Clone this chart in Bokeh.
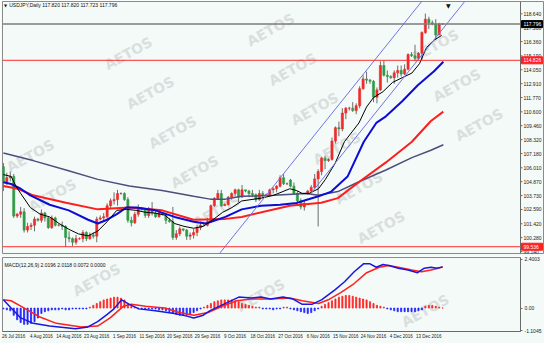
from bokeh.plotting import figure
from bokeh.models import ColumnDataSource, Range1d, FixedTicker, Span, Label
from bokeh.layouts import column
from bokeh.embed import file_html
from bokeh.resources import INLINE
from bokeh.core.properties import value

# ---------------- data ----------------
date_ticks = [0, 8, 16, 24, 32, 40, 48, 56, 64, 72, 80, 88, 96, 104, 112, 120]
date_labels = ["26 Jul 2016", "4 Aug 2016", "14 Aug 2016", "23 Aug 2016", "1 Sep 2016",
               "11 Sep 2016", "20 Sep 2016", "29 Sep 2016", "9 Oct 2016", "18 Oct 2016",
               "27 Oct 2016", "6 Nov 2016", "15 Nov 2016", "24 Nov 2016", "4 Dec 2016",
               "13 Dec 2016"]

price_ticks = [118.640, 117.500, 116.360, 115.190, 114.050, 112.910, 111.770, 110.600,
               109.460, 108.320, 107.180, 106.010, 104.870, 103.730, 102.590, 101.420,
               100.280, 99.140]

open_ = [106.10, 104.80, 105.20, 105.30, 102.05, 102.20, 102.40, 100.90, 101.20, 101.30,
         101.80, 101.70, 102.30, 101.90, 101.10, 101.90, 101.30, 101.30, 101.20, 100.30,
         100.20, 99.90, 100.20, 100.20, 100.70, 100.20, 100.50, 100.40, 101.80, 101.90,
         102.00, 102.90, 103.30, 103.40, 103.90, 103.90, 103.40, 101.70, 101.50, 102.20,
         102.70, 102.60, 102.10, 102.60, 102.30, 102.00, 102.30, 102.20, 101.70, 101.60,
         100.30, 100.60, 101.00, 100.90, 100.40, 100.50, 100.70, 101.10, 101.30, 101.30,
         101.60, 102.90, 103.50, 103.90, 102.90, 103.00, 103.60, 103.90, 104.20, 103.60,
         104.20, 104.10, 103.90, 103.80, 103.40, 103.90, 103.80, 103.80, 104.20, 104.30,
         104.50, 105.20, 104.70, 105.00, 104.50, 103.90, 103.30, 102.80, 103.90, 104.10,
         104.40, 105.10, 105.70, 106.80, 106.60, 106.70, 108.20, 109.30, 109.20, 110.50,
         110.90, 110.90, 110.70, 111.10, 112.50, 113.30, 113.20, 113.10, 111.80, 112.40,
         114.40, 113.60, 113.50, 113.40, 113.80, 114.00, 113.70, 114.10, 115.30, 115.20,
         115.00, 115.40, 117.10, 118.20, 117.90, 117.80, 116.90, 117.820]
high = [106.40, 105.60, 105.70, 105.50, 102.30, 102.80, 102.70, 101.50, 101.50, 102.00,
        101.90, 102.60, 102.40, 102.00, 102.10, 102.00, 101.40, 101.60, 101.30, 100.80,
        100.30, 100.50, 100.30, 100.90, 100.80, 100.70, 100.70, 102.00, 102.10, 102.30,
        103.10, 103.50, 104.00, 104.20, 104.00, 104.00, 103.60, 102.00, 102.40, 103.00,
        102.80, 102.70, 102.80, 103.20, 102.50, 102.40, 102.30, 102.30, 101.90, 102.80,
        100.90, 101.20, 101.00, 101.00, 100.70, 101.00, 101.30, 101.60, 101.40, 101.90,
        103.00, 103.60, 104.20, 104.20, 103.10, 103.70, 104.00, 104.30, 104.30, 104.60,
        104.20, 104.20, 104.20, 103.90, 104.20, 104.10, 103.90, 104.30, 104.40, 104.60,
        105.40, 105.50, 104.80, 105.10, 104.80, 104.10, 103.50, 103.30, 104.20, 104.60,
        105.50, 105.90, 106.90, 107.00, 106.80, 108.50, 109.40, 109.80, 110.90, 111.00,
        111.00, 111.40, 111.30, 112.70, 113.60, 113.90, 113.30, 113.20, 112.60, 114.75,
        114.83, 114.00, 113.60, 114.00, 114.40, 114.40, 114.50, 115.40, 115.50, 116.10,
        115.50, 117.20, 118.66, 118.40, 118.10, 118.20, 117.90, 117.820]
low = [104.10, 104.60, 104.90, 101.90, 101.90, 101.90, 100.70, 100.70, 100.90, 100.80,
       101.60, 101.50, 101.60, 101.00, 101.00, 101.20, 101.20, 100.90, 99.54, 99.90,
       99.60, 99.70, 100.10, 99.90, 100.00, 100.10, 100.20, 99.90, 101.70, 101.60,
       101.80, 102.70, 103.00, 102.90, 103.80, 103.30, 101.50, 101.20, 101.40, 102.00,
       102.50, 101.90, 101.90, 102.10, 101.90, 101.90, 102.10, 101.40, 101.50, 100.10,
       100.10, 100.40, 100.80, 100.10, 100.10, 100.20, 100.40, 100.90, 101.20, 101.20,
       101.50, 102.80, 103.40, 102.80, 102.90, 102.90, 103.40, 103.70, 103.20, 103.60,
       104.00, 103.60, 103.60, 103.20, 103.30, 103.50, 103.70, 103.70, 103.90, 104.00,
       104.40, 104.60, 104.60, 104.40, 103.80, 102.90, 102.60, 102.50, 103.80, 103.90,
       104.30, 101.20, 105.40, 105.90, 106.50, 106.60, 108.00, 108.60, 109.00, 110.00,
       110.70, 110.60, 110.40, 110.90, 112.40, 112.90, 112.90, 111.40, 111.30, 112.30,
       113.50, 113.00, 113.30, 112.90, 113.40, 113.50, 113.60, 114.00, 115.10, 114.80,
       114.80, 114.80, 117.00, 117.40, 117.70, 116.50, 116.90, 117.723]
close = [104.80, 105.20, 105.30, 102.05, 102.20, 102.40, 100.90, 101.20, 101.30, 101.80,
         101.70, 102.30, 101.90, 101.10, 101.90, 101.30, 101.30, 101.20, 100.30, 100.20,
         99.90, 100.20, 100.20, 100.70, 100.20, 100.50, 100.40, 101.80, 101.90, 102.00,
         102.90, 103.30, 103.40, 103.90, 103.90, 103.40, 101.70, 101.50, 102.20, 102.70,
         102.60, 102.10, 102.60, 102.30, 102.00, 102.30, 102.20, 101.70, 101.60, 100.30,
         100.60, 101.00, 100.90, 100.40, 100.50, 100.70, 101.10, 101.30, 101.30, 101.60,
         102.90, 103.50, 103.90, 102.90, 103.00, 103.60, 103.90, 104.20, 103.60, 104.20,
         104.10, 103.90, 103.80, 103.40, 103.90, 103.80, 103.80, 104.20, 104.30, 104.50,
         105.20, 104.70, 104.70, 104.50, 103.90, 103.30, 102.80, 103.10, 104.10, 104.40,
         105.10, 105.70, 106.80, 106.60, 106.70, 108.20, 109.30, 109.20, 110.50, 110.90,
         110.90, 110.70, 111.10, 112.50, 113.30, 113.20, 113.10, 111.80, 112.40, 114.40,
         113.60, 113.50, 113.40, 113.80, 114.00, 113.70, 114.10, 115.30, 115.20, 115.00,
         115.40, 117.10, 118.20, 117.90, 117.80, 116.90, 117.80, 117.796]

# moving averages (bar index, price)
ma_black_x = [0, 2.25, 3.6, 5.0, 7.8, 10.6, 13.4, 16.1, 18.9, 21.7, 24.5, 27.3, 30.0, 32.8,
              35.6, 38.4, 41.1, 43.9, 46.7, 49.5, 52.2, 55.0, 57.8, 60.6, 63.4, 66.1, 68.9,
              74.5, 78.1, 82.8, 84.8, 86.4, 88.4, 91.1, 93.1, 95.9, 98.6, 102.8, 105.0,
              107.0, 109.7, 112.5, 115.3, 118.1, 120.3, 122.3, 124.5, 126.7]
ma_black_y = [105.45, 105.30, 104.52, 103.91, 102.75, 102.21, 101.98, 101.44, 100.97, 100.59,
              100.43, 100.82, 101.59, 102.52, 102.60, 102.52, 102.36, 102.29, 102.13, 101.44,
              101.21, 101.05, 101.21, 101.75, 102.36, 102.75, 103.29, 103.52, 103.75, 104.29,
              104.14, 103.91, 103.91, 104.29, 105.06, 106.37, 108.15, 109.69, 111.00, 111.77,
              112.24, 113.01, 113.40, 113.78, 114.55, 115.86, 116.48, 116.87]
ma_blue_x = [0, 2.25, 5.0, 7.8, 13.4, 18.9, 24.5, 27.3, 30.0, 32.8, 35.6, 38.4, 43.9, 49.5,
             55.0, 58.6, 64.2, 68.9, 74.5, 80.0, 84.8, 87.5, 91.1, 94.8, 99.5, 104.2, 107.8,
             110.6, 115.3, 119.8, 124.5, 127.2]
ma_blue_y = [104.83, 104.68, 104.29, 103.75, 102.98, 102.52, 101.75, 101.44, 101.75, 102.21,
             102.75, 102.75, 102.52, 101.98, 101.59, 101.44, 101.98, 102.60, 102.90, 102.98,
             103.13, 103.37, 103.67, 104.06, 105.29, 108.15, 109.69, 110.23, 111.47, 112.78,
             113.93, 114.71]
ma_red_x = [0, 4.2, 8.6, 18.1, 27.3, 36.4, 45.9, 55.0, 64.2, 68.9, 82.8, 91.9, 96.7, 103.1,
            110.6, 118.1, 123.6, 127.2]
ma_red_y = [104.52, 104.29, 103.75, 103.14, 102.60, 102.75, 102.52, 101.75, 101.82, 101.98,
            102.90, 103.14, 103.52, 104.91, 106.45, 108.15, 109.85, 110.62]
ma_slate_x = [0, 8.6, 18.1, 27.3, 36.4, 45.9, 55.0, 59.8, 64.2, 68.9, 78.1, 87.5, 91.1, 96.7,
              103.1, 110.6, 118.1, 123.6, 127.2]
ma_slate_y = [107.22, 106.60, 105.83, 105.06, 104.52, 104.14, 103.67, 103.44, 103.44, 103.67,
              103.75, 103.91, 103.75, 104.06, 104.91, 105.83, 106.84, 107.45, 107.90]

# trend channel (bar index, price)
chan_upper_x = [60.0, 125.0]
chan_upper_y = [98.10, 121.09]
chan_lower_x = [89.0, 136.0]
chan_lower_y = [103.94, 120.58]

# horizontal levels with their price-scale boxes
levels = [117.796, 114.826, 99.536]
level_texts = ["117.796", "114.826", "99.536"]
level_line_colors = ["#7d7d7d", "#ff2b2b", "#ff2b2b"]
level_box_colors = ["#000000", "#ff2020", "#ff2020"]

# MACD
macd_x = [0, 2.25, 5.03, 8.64, 13.36, 20.86, 24.47, 27.25, 30.03, 31.97, 34.19, 36.42, 39.19,
          43.92, 49.47, 53.08, 55.03, 57.81, 59.75, 62.53, 68.08, 71.69, 74.47, 77.25, 80.86,
          83.64, 86.42, 89.19, 91.97, 95.86, 98.64, 101.42, 104.19, 105.86, 107.81, 109.75,
          111.42, 114.19, 116.97, 119.75, 121.69, 123.64, 125.31, 127.0]
macd_y = [0.404, 0.004, -0.484, -0.750, -0.883, -1.016, -0.927, -0.661, -0.306, -0.040, 0.404,
          0.182, -0.040, -0.129, -0.262, -0.395, -0.484, -0.351, -0.129, 0.093, 0.537, 0.492,
          0.537, 0.448, 0.537, 0.448, 0.182, 0.182, 0.404, 0.892, 1.291, 1.779, 2.178, 2.178,
          2.001, 2.134, 2.090, 1.957, 1.868, 1.735, 1.957, 2.001, 1.957, 2.0196]
signal_x = [0, 2.25, 5.03, 7.81, 10.58, 15.31, 22.53, 27.25, 30.86, 34.75, 36.97, 41.14, 46.69,
            50.86, 55.03, 59.19, 63.36, 67.53, 71.69, 77.25, 82.81, 86.42, 91.14, 93.92, 97.53,
            101.42, 105.03, 108.64, 111.42, 114.19, 118.08, 120.86, 123.64, 127.0]
signal_y = [0.404, 0.359, 0.093, -0.173, -0.439, -0.750, -0.927, -0.883, -0.484, 0.093, 0.182,
            0.093, 0.004, -0.218, -0.351, -0.218, 0.093, 0.359, 0.448, 0.448, 0.492, 0.359,
            0.226, 0.404, 0.759, 1.202, 1.735, 2.001, 2.090, 2.001, 1.868, 1.779, 1.868, 2.0118]
hist = [-0.044, -0.089, -0.133, -0.355, -0.577, -0.710, -0.799, -0.799, -0.755, -0.666,
        -0.488, -0.266, -0.178, -0.133, -0.089, -0.089, -0.089, -0.044, -0.089, -0.089,
        -0.044, -0.044, -0.044, -0.044, -0.044, 0.044, 0.133, 0.222, 0.311, 0.400,
        0.444, 0.488, 0.533, 0.533, 0.488, 0.400, 0.222, 0.089, 0.044, -0.044,
        -0.044, -0.044, -0.044, -0.044, -0.044, -0.089, -0.089, -0.133, -0.178, -0.266,
        -0.311, -0.355, -0.355, -0.355, -0.311, -0.222, -0.133, -0.044, 0.044, 0.133,
        0.222, 0.311, 0.355, 0.400, 0.400, 0.400, 0.400, 0.355, 0.311, 0.222,
        0.178, 0.133, 0.089, 0.044, 0.044, -0.044, -0.044, -0.044, -0.089, -0.044,
        -0.044, 0.044, 0.044, -0.044, -0.089, -0.133, -0.178, -0.222, -0.266, -0.222,
        -0.133, -0.044, 0.089, 0.178, 0.266, 0.355, 0.444, 0.533, 0.577, 0.622,
        0.622, 0.577, 0.533, 0.488, 0.444, 0.400, 0.311, 0.222, 0.133, 0.089,
        0.044, -0.044, -0.089, -0.133, -0.178, -0.178, -0.178, -0.178, -0.178, -0.178,
        -0.133, -0.089, 0.089, 0.133, 0.133, 0.089, 0.044, 0.0072]
macd_ticks = [2.4003, 0, -1.1045]
macd_tick_labels = ["2.4003", "0.00", "-1.1045"]

title_text = "USDJPY,Daily  117.820 117.820 117.723 117.796"
macd_title = "MACD(12,26,9) 2.0196 2.0118 0.0072 0.0000"
watermark = "AETOS"

# ---------------- styling / geometry ----------------
BG = "#f3faf7"
FONT = "Liberation Sans"
BULL = "#f02a2a"
BEAR = "#2f9c45"
WICK = "#6e6e6e"
AXIS = "#6a6a6a"
X_START, X_END = -0.25, 149.5
Y0, Y1 = 98.98, 119.65
FW, FH, SCALE_W = 518, 252, 24
BPP = (X_END - X_START) / FW          # bars per pixel

bars = list(range(len(open_)))

p = figure(frame_width=FW + SCALE_W, frame_height=FH,
           x_range=Range1d(X_START, X_END + SCALE_W * BPP), y_range=Range1d(Y0, Y1),
           x_axis_location=None, y_axis_location=None, output_backend="svg",
           toolbar_location=None, min_border_left=2, min_border_right=0, min_border_top=1,
           min_border_bottom=3, background_fill_color=BG, border_fill_color=BG,
           outline_line_color="#8a8a8a")
p.xgrid.visible = False
p.ygrid.visible = False

# watermark lattice (reference pixel space -> panel coordinates), whole words only
wm_main = dict(x=[], y=[], t=[])
wm_macd = dict(x=[], y=[], t=[])
for m_ in range(-4, 7):
    for n_ in range(-9, 11):
        px = 30 + 148 * m_ + 23 * n_
        py = 165 - 25 * m_ + 42 * n_
        if not (30 <= px <= 512):
            continue
        if 21 <= py <= 246:
            wm_main["x"].append((px - 1.9) / 3.6)
            wm_main["y"].append(118.64 - (py - 14) * 0.07714)
            wm_main["t"].append(watermark)
        elif 288 <= py <= 327:
            wm_macd["x"].append((px - 1.9) / 3.6)
            wm_macd["y"].append(2.4003 - (py - 268) * 0.04437)
            wm_macd["t"].append(watermark)

WM = dict(text_font=value("DejaVu Sans"), text_font_style="bold", text_font_size="14px",
          text_color="#d9dfde", angle=0.5, text_align="center", text_baseline="middle")
p.text(x="x", y="y", text="t", source=ColumnDataSource(wm_main), **WM)

src = ColumnDataSource(dict(
    x=bars, o=open_, h=high, l=low, c=close,
    top=[max(o, c) for o, c in zip(open_, close)],
    bottom=[min(o, c) for o, c in zip(open_, close)],
    color=[BULL if c >= o else BEAR for o, c in zip(open_, close)],
))
p.segment(x0="x", y0="l", x1="x", y1="h", source=src, line_color=WICK, line_width=1)
p.vbar(x="x", width=0.62, top="top", bottom="bottom", fill_color="color",
       line_color="color", line_width=0.6, source=src)

p.line(ma_slate_x, ma_slate_y, line_color="#4d4d7e", line_width=1.5)
p.line(ma_red_x, ma_red_y, line_color="#ff1e1e", line_width=2)
p.line(ma_blue_x, ma_blue_y, line_color="#0c0cd6", line_width=2)
p.line(ma_black_x, ma_black_y, line_color="#000000", line_width=1)

p.line(chan_upper_x, chan_upper_y, line_color="#7272ea", line_width=1)
p.line(chan_lower_x, chan_lower_y, line_color="#7272ea", line_width=1)

n_lv = len(levels)
p.segment(x0=[X_START] * n_lv, y0=levels, x1=[X_END] * n_lv, y1=levels,
          line_color=level_line_colors, line_width=[1.5, 1, 1])

# price scale (right of the chart area)
p.add_layout(Span(location=X_END, dimension="height", line_color=AXIS, line_width=1))
n_t = len(price_ticks)
p.segment(x0=[X_END] * n_t, y0=price_ticks, x1=[X_END + 2 * BPP] * n_t, y1=price_ticks,
          line_color=AXIS, line_width=1)
p.text(x=[X_END] * n_t, y=price_ticks, text=["%.3f" % t for t in price_ticks], x_offset=3,
       text_font=value(FONT), text_font_size="5px", text_color="#222222",
       text_align="left", text_baseline="middle")
p.rect(x=[X_END + 11.5 * BPP] * n_lv, y=levels, width=21, height=7, width_units="screen",
       height_units="screen", fill_color=level_box_colors, line_color=level_box_colors)
p.text(x=[X_END] * n_lv, y=levels, text=level_texts, x_offset=3, text_font=value(FONT),
       text_font_size="5px", text_color="white", text_align="left", text_baseline="middle")

p.add_layout(Label(x=1.7, y=119.33, text=title_text, text_font_size="5px", text_font=FONT,
                   text_color="#111111", text_baseline="middle"))
p.add_layout(Label(x=0.2, y=119.33, text="\u25bc", text_font_size="4px", text_font="DejaVu Sans",
                   text_color="#111111", text_baseline="middle"))
p.add_layout(Label(x=128.6, y=119.65, text="\u25bc", text_font_size="6px", text_font="DejaVu Sans",
                   text_color="#111111", text_baseline="top", text_align="center"))

# ---------------- MACD panel ----------------
mfig = figure(frame_width=FW, frame_height=74, x_range=Range1d(X_START, X_END),
              y_range=Range1d(-1.15, 2.48), y_axis_location="right", output_backend="svg",
              toolbar_location=None, min_border_left=2, min_border_right=24, min_border_top=1,
              min_border_bottom=12, background_fill_color=BG, border_fill_color=BG,
              outline_line_color="#8a8a8a")
mfig.xgrid.visible = False
mfig.ygrid.visible = False
mfig.text(x="x", y="y", text="t", source=ColumnDataSource(wm_macd), **WM)

hsrc = ColumnDataSource(dict(
    x=bars, top=[max(v, 0) for v in hist], bottom=[min(v, 0) for v in hist],
    color=["#ff2424" if v >= 0 else "#2424ff" for v in hist],
))
mfig.vbar(x="x", width=0.32, top="top", bottom="bottom", fill_color="color",
          line_color="color", line_width=0.8, source=hsrc)
mfig.line(signal_x, signal_y, line_color="#ff2020", line_width=1.5)
mfig.line(macd_x, macd_y, line_color="#1818e0", line_width=1.5)

mfig.yaxis.ticker = FixedTicker(ticks=macd_ticks)
mfig.yaxis.major_label_overrides = dict(zip(macd_ticks, macd_tick_labels))
date_pos = [t + 3.0 for t in date_ticks]
mfig.xaxis.ticker = FixedTicker(ticks=date_pos)
mfig.xaxis.major_label_overrides = dict(zip(date_pos, date_labels))

for ax in (mfig.yaxis[0], mfig.xaxis[0]):
    ax.major_label_text_font = FONT
    ax.major_label_text_color = "#222222"
    ax.major_tick_in = 0
    ax.minor_tick_line_color = None
    ax.axis_line_color = AXIS
    ax.major_tick_line_color = AXIS
mfig.yaxis[0].major_label_text_font_size = "5px"
mfig.xaxis[0].major_label_text_font_size = "4.5px"
mfig.yaxis[0].major_tick_out = 2
mfig.yaxis[0].major_label_standoff = 2
mfig.xaxis[0].major_tick_out = 0
mfig.xaxis[0].major_label_standoff = 2

mfig.add_layout(Label(x=0.3, y=2.13, text=macd_title, text_font_size="5px", text_font=FONT,
                      text_color="#111111", text_baseline="middle"))

layout = column(p, mfig, spacing=0)
open("out.html", "w").write(file_html(layout, INLINE))
